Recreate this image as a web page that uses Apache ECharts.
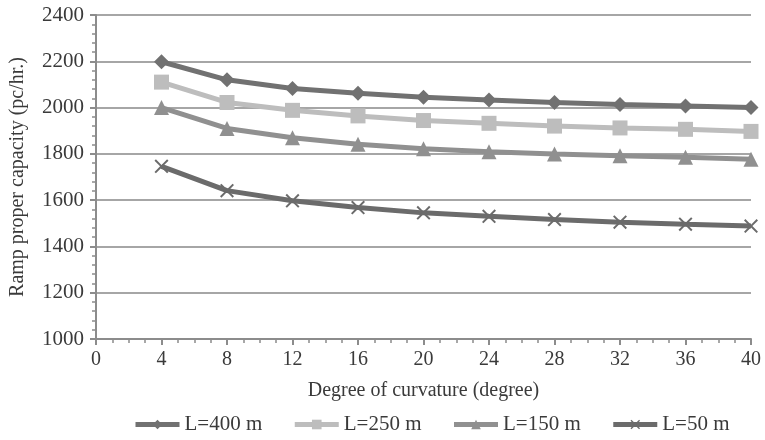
<!DOCTYPE html>
<html>
<head>
<meta charset="utf-8">
<script src="https://cdn.jsdelivr.net/npm/echarts@6/dist/echarts.min.js"></script>
<style>
  html, body { margin: 0; padding: 0; background: #fff; }
  #chart { width: 765px; height: 440px; }
</style>
</head>
<body>
<div id="chart"></div>
<script>
const curvature = [4, 8, 12, 16, 20, 24, 28, 32, 36, 40]
const seriesNames = ['L=400 m', 'L=250 m', 'L=150 m', 'L=50 m']
const cap400 = [2198, 2120, 2082, 2062, 2045, 2033, 2022, 2013, 2007, 2000]
const cap250 = [2110, 2022, 1988, 1964, 1944, 1932, 1920, 1912, 1906, 1897]
const cap150 = [2000, 1910, 1870, 1842, 1822, 1809, 1799, 1792, 1785, 1777]
const cap50 = [1746, 1641, 1597, 1568, 1545, 1530, 1516, 1505, 1496, 1488]

const font = 'Liberation Serif'
const textColor = '#3a3a3a'
const axisColor = '#8c8c8c'
const crossPath = 'path://M0,1L1,0L5,4L9,0L10,1L6,5L10,9L9,10L5,6L1,10L0,9L4,5Z'

const makeSeries = (name, values, color, symbol, symbolSize) => ({
  name,
  type: 'line',
  data: curvature.map((x, i) => [x, values[i]]),
  symbol,
  symbolSize,
  lineStyle: { color, width: 5 },
  itemStyle: { color },
  emphasis: { disabled: true }
})

const chart = echarts.init(document.getElementById('chart'))
chart.setOption({
  animation: false,
  backgroundColor: '#fff',
  textStyle: { fontFamily: font },
  grid: { left: 93, right: 14, top: 15, bottom: 101 },
  legend: {
    bottom: 0,
    left: 128,
    itemWidth: 44,
    itemHeight: 12,
    itemGap: 30,
    lineStyle: { width: 5 },
    textStyle: { fontFamily: font, fontSize: 21, color: textColor },
    data: seriesNames
  },
  xAxis: {
    type: 'value',
    min: 0,
    max: 40,
    interval: 4,
    name: 'Degree of curvature (degree)',
    nameLocation: 'middle',
    nameGap: 42,
    nameTextStyle: { fontFamily: font, fontSize: 20, color: textColor },
    axisLine: { lineStyle: { color: axisColor, width: 2 } },
    axisTick: { length: 6, lineStyle: { color: axisColor, width: 2 } },
    minorTick: { show: true, splitNumber: 4, length: 4, lineStyle: { color: axisColor, width: 1.5 } },
    axisLabel: { fontFamily: font, fontSize: 20, color: textColor, margin: 11 },
    splitLine: { show: false }
  },
  yAxis: {
    type: 'value',
    min: 1000,
    max: 2400,
    interval: 200,
    name: 'Ramp proper capacity (pc/hr.)',
    nameLocation: 'middle',
    nameGap: 68,
    nameTextStyle: { fontFamily: font, fontSize: 20, color: textColor },
    axisLine: { show: true, lineStyle: { color: axisColor, width: 2 } },
    axisTick: { show: true, length: 6, lineStyle: { color: axisColor, width: 2 } },
    minorTick: { show: true, splitNumber: 5, length: 4, lineStyle: { color: axisColor, width: 1.5 } },
    axisLabel: { fontFamily: font, fontSize: 21, color: textColor, margin: 12, formatter: (v) => String(v) },
    splitLine: { lineStyle: { color: '#a6a6a6', width: 2 } }
  },
  series: [
    makeSeries(seriesNames[0], cap400, '#717171', 'diamond', 15),
    makeSeries(seriesNames[1], cap250, '#bdbdbd', 'rect', 15),
    makeSeries(seriesNames[2], cap150, '#909090', 'triangle', 15),
    makeSeries(seriesNames[3], cap50, '#6b6b6b', crossPath, 14)
  ]
})
</script>
</body>
</html>
